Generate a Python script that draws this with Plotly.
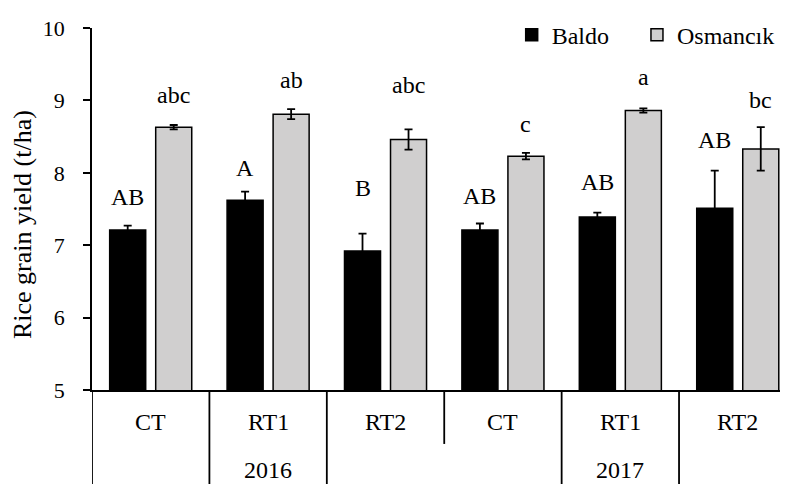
import plotly.graph_objects as go

treatments = ["CT", "RT1", "RT2", "CT", "RT1", "RT2"]
years = ["2016", "2017"]
baldo = [7.21, 7.62, 6.92, 7.21, 7.39, 7.51]
baldo_err = [0.06, 0.12, 0.24, 0.09, 0.06, 0.52]
osman = [8.63, 8.81, 8.46, 8.23, 8.86, 8.33]
osman_err = [0.03, 0.07, 0.14, 0.045, 0.03, 0.30]
baldo_letters = ["AB", "A", "B", "AB", "AB", "AB"]
osman_letters = ["abc", "ab", "abc", "c", "a", "bc"]
letter_shift = [14, 9, 31, 12, 16, 16]
osman_shift = [15, 14, 29, 14, 16, 12]

FONT = "Liberation Serif"
xs = list(range(len(treatments)))

fig = go.Figure()
fig.add_trace(go.Bar(
    x=xs, y=baldo, name="Baldo", legend="legend",
    marker=dict(color="black", line=dict(color="black", width=1.5)),
    error_y=dict(type="data", array=baldo_err, color="black", thickness=1.8, width=4),
))
fig.add_trace(go.Bar(
    x=xs, y=osman, name="Osmancık", legend="legend2",
    marker=dict(color="#d0cfcf", line=dict(color="black", width=1.5)),
    error_y=dict(type="data", array=osman_err, color="black", thickness=1.8, width=4),
))

off = 0.196
ann = []
for i in xs:
    ann.append(dict(x=i - off, y=baldo[i] + baldo_err[i], text=baldo_letters[i], showarrow=False,
                    xref="x", yref="y", yanchor="bottom", yshift=letter_shift[i],
                    font=dict(family=FONT, size=24, color="black")))
    ann.append(dict(x=i + off, y=osman[i] + osman_err[i], text=osman_letters[i], showarrow=False,
                    xref="x", yref="y", yanchor="bottom", yshift=osman_shift[i],
                    font=dict(family=FONT, size=24, color="black")))
for i, t in enumerate(treatments):
    ann.append(dict(x=i, y=-0.088, text=t, showarrow=False, xref="x", yref="paper",
                    yanchor="middle", font=dict(family=FONT, size=24, color="black")))
for j, yr in enumerate(years):
    ann.append(dict(x=1 + 3 * j, y=-0.222, text=yr, showarrow=False, xref="x", yref="paper",
                    yanchor="middle", font=dict(family=FONT, size=24, color="black")))
# y-axis title
ann.append(dict(x=-0.099, y=0.456, xref="paper", yref="paper", text="Rice grain yield (t/ha)",
                textangle=-90, showarrow=False, xanchor="center", yanchor="middle",
                font=dict(family=FONT, size=26, color="black")))

shapes = []
for xv, ybot in [(-0.5, -0.3), (0.5, -0.3), (1.5, -0.3), (2.5, -0.149), (3.5, -0.3), (4.5, -0.3), (5.5, -0.3)]:
    shapes.append(dict(type="line", xref="x", yref="paper", x0=xv, x1=xv, y0=0, y1=ybot,
                       line=dict(color="black", width=1.8)))

legend_font = dict(family=FONT, size=24, color="black")
fig.update_layout(
    width=780, height=476,
    margin=dict(l=84, r=0, t=20, b=94, autoexpand=False),
    plot_bgcolor="white", paper_bgcolor="white",
    barmode="group", bargap=0.216, bargroupgap=0.217,
    font=dict(family=FONT, size=22, color="black"),
    showlegend=True,
    legend=dict(orientation="h", x=0.603, xanchor="left", y=0.98, yanchor="middle",
                font=legend_font, bgcolor="rgba(0,0,0,0)"),
    legend2=dict(orientation="h", x=0.783, xanchor="left", y=0.98, yanchor="middle",
                 font=legend_font, bgcolor="rgba(0,0,0,0)"),
    annotations=ann, shapes=shapes,
    xaxis=dict(range=[-0.5, 5.428], showticklabels=False, ticks="", showgrid=False,
               zeroline=False, showline=True, linecolor="black", linewidth=1.8, fixedrange=True,
               automargin=False),
    yaxis=dict(range=[5, 10], tickvals=[5, 6, 7, 8, 9, 10], ticks="outside", ticklen=7,
               tickwidth=1.8, tickcolor="black", showgrid=False, zeroline=False, showline=True,
               linecolor="black", linewidth=1.8, ticklabelstandoff=14, automargin=False,
               tickfont=dict(family=FONT, size=22, color="black")),
)
fig.write_html("out.html")
